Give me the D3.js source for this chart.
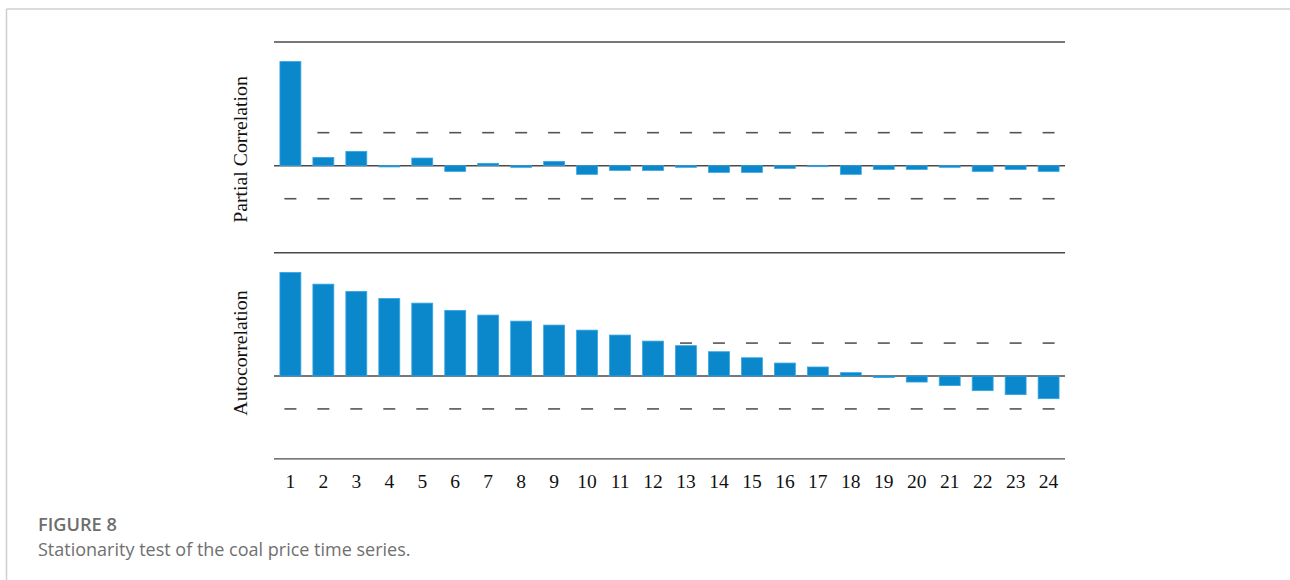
<!DOCTYPE html>
<html>
<head>
<meta charset="utf-8">
<script src="https://cdn.jsdelivr.net/npm/d3@7"></script>
<style>
  html, body { margin: 0; padding: 0; background: #fff; }
  svg { display: block; }
</style>
</head>
<body>
<svg id="chart" width="1290" height="580"></svg>
<script>
// Lags 1..24
const lags = d3.range(1, 25);
const tickLabels = lags.map(String);

// Partial autocorrelation per lag
const pacf = [0.842, 0.067, 0.116, -0.010, 0.062, -0.046, 0.019, -0.013, 0.035, -0.070,
              -0.038, -0.038, -0.013, -0.054, -0.054, -0.022, -0.008, -0.070, -0.030, -0.030,
              -0.013, -0.046, -0.030, -0.046];

// Autocorrelation per lag
const acf = [0.840, 0.745, 0.686, 0.629, 0.591, 0.532, 0.494, 0.445, 0.413, 0.372,
             0.332, 0.283, 0.246, 0.197, 0.148, 0.105, 0.073, 0.027, -0.013, -0.049,
             -0.078, -0.119, -0.151, -0.184];

// Approximate 95% confidence bound
const bound = [0.267];

const svg = d3.select("#chart");
const barColor = "#0a88cb";
const edgeColor = "#38a6e2";
const axisColor = "#4a4a4a";

// Page frame
svg.append("line").attr("x1", 6.5).attr("x2", 1290).attr("y1", 9).attr("y2", 9)
  .attr("stroke", "#cfcfcf").attr("stroke-width", 1.5);
svg.append("line").attr("x1", 6.5).attr("x2", 6.5).attr("y1", 9).attr("y2", 580)
  .attr("stroke", "#cfcfcf").attr("stroke-width", 1.5);

const x = d3.scaleBand().domain(lags).range([274, 1065])
  .paddingInner(0.365).paddingOuter(0.18);

const xL = 274, xR = 1065;

function panel(values, y, label, labelY) {
  const g = svg.append("g");

  // top rule
  g.append("line").attr("x1", xL).attr("x2", xR)
    .attr("y1", y(1)).attr("y2", y(1))
    .attr("stroke", axisColor).attr("stroke-width", 1.4);

  // zero line
  g.append("line").attr("x1", xL).attr("x2", xR)
    .attr("y1", y(0)).attr("y2", y(0))
    .attr("stroke", axisColor).attr("stroke-width", 1.6);

  // confidence dashes, one per lag
  [bound[0], -bound[0]].forEach(b => {
    g.selectAll(null).data(lags).enter().append("line")
      .attr("x1", d => x(d) + x.bandwidth() / 2 - 6)
      .attr("x2", d => x(d) + x.bandwidth() / 2 + 6)
      .attr("y1", y(b)).attr("y2", y(b))
      .attr("stroke", "#555").attr("stroke-width", 1.6);
  });

  // bars
  g.selectAll(null).data(values).enter().append("rect")
    .attr("x", (d, i) => x(lags[i]))
    .attr("width", x.bandwidth())
    .attr("y", d => Math.min(y(d), y(0)))
    .attr("height", d => Math.max(Math.abs(y(d) - y(0)), 1))
    .attr("fill", barColor)
    .attr("stroke", edgeColor).attr("stroke-width", 0.8);

  // y label
  g.append("text")
    .attr("transform", `translate(247,${labelY}) rotate(-90)`)
    .attr("text-anchor", "middle")
    .attr("font-family", "'Liberation Serif', 'Times New Roman', serif")
    .attr("font-size", 19.8)
    .attr("fill", "#111")
    .text(label);
}

const yTop = d3.scaleLinear().domain([0, 1]).range([165.7, 42]);
const yBot = d3.scaleLinear().domain([0, 1]).range([376, 252.7]);

panel(pacf, yTop, "Partial Correlation", 149.5);
panel(acf, yBot, "Autocorrelation", 353);

// bottom rule of the lower panel
svg.append("line").attr("x1", xL).attr("x2", xR)
  .attr("y1", yBot(-0.672)).attr("y2", yBot(-0.672))
  .attr("stroke", axisColor).attr("stroke-width", 1.4);

// lag axis
const axis = d3.axisBottom(x).tickSize(0).tickPadding(0).tickFormat((d, i) => tickLabels[i]);
const ax = svg.append("g").attr("transform", "translate(0,474)").call(axis);
ax.select(".domain").remove();
ax.selectAll("text")
  .attr("font-family", "'Liberation Serif', 'Times New Roman', serif")
  .attr("font-size", 19.5)
  .attr("fill", "#111")
  .attr("dy", "0.72em");

// caption
svg.append("text").attr("x", 38).attr("y", 531)
  .attr("font-family", "'Open Sans', sans-serif").attr("font-weight", 600)
  .attr("font-size", 18.2).attr("fill", "#6e6e6e")
  .text("FIGURE 8");
svg.append("text").attr("x", 38).attr("y", 556)
  .attr("font-family", "'Open Sans', sans-serif").attr("font-weight", 400)
  .attr("font-size", 18).attr("fill", "#707070")
  .text("Stationarity test of the coal price time series.");
</script>
</body>
</html>
